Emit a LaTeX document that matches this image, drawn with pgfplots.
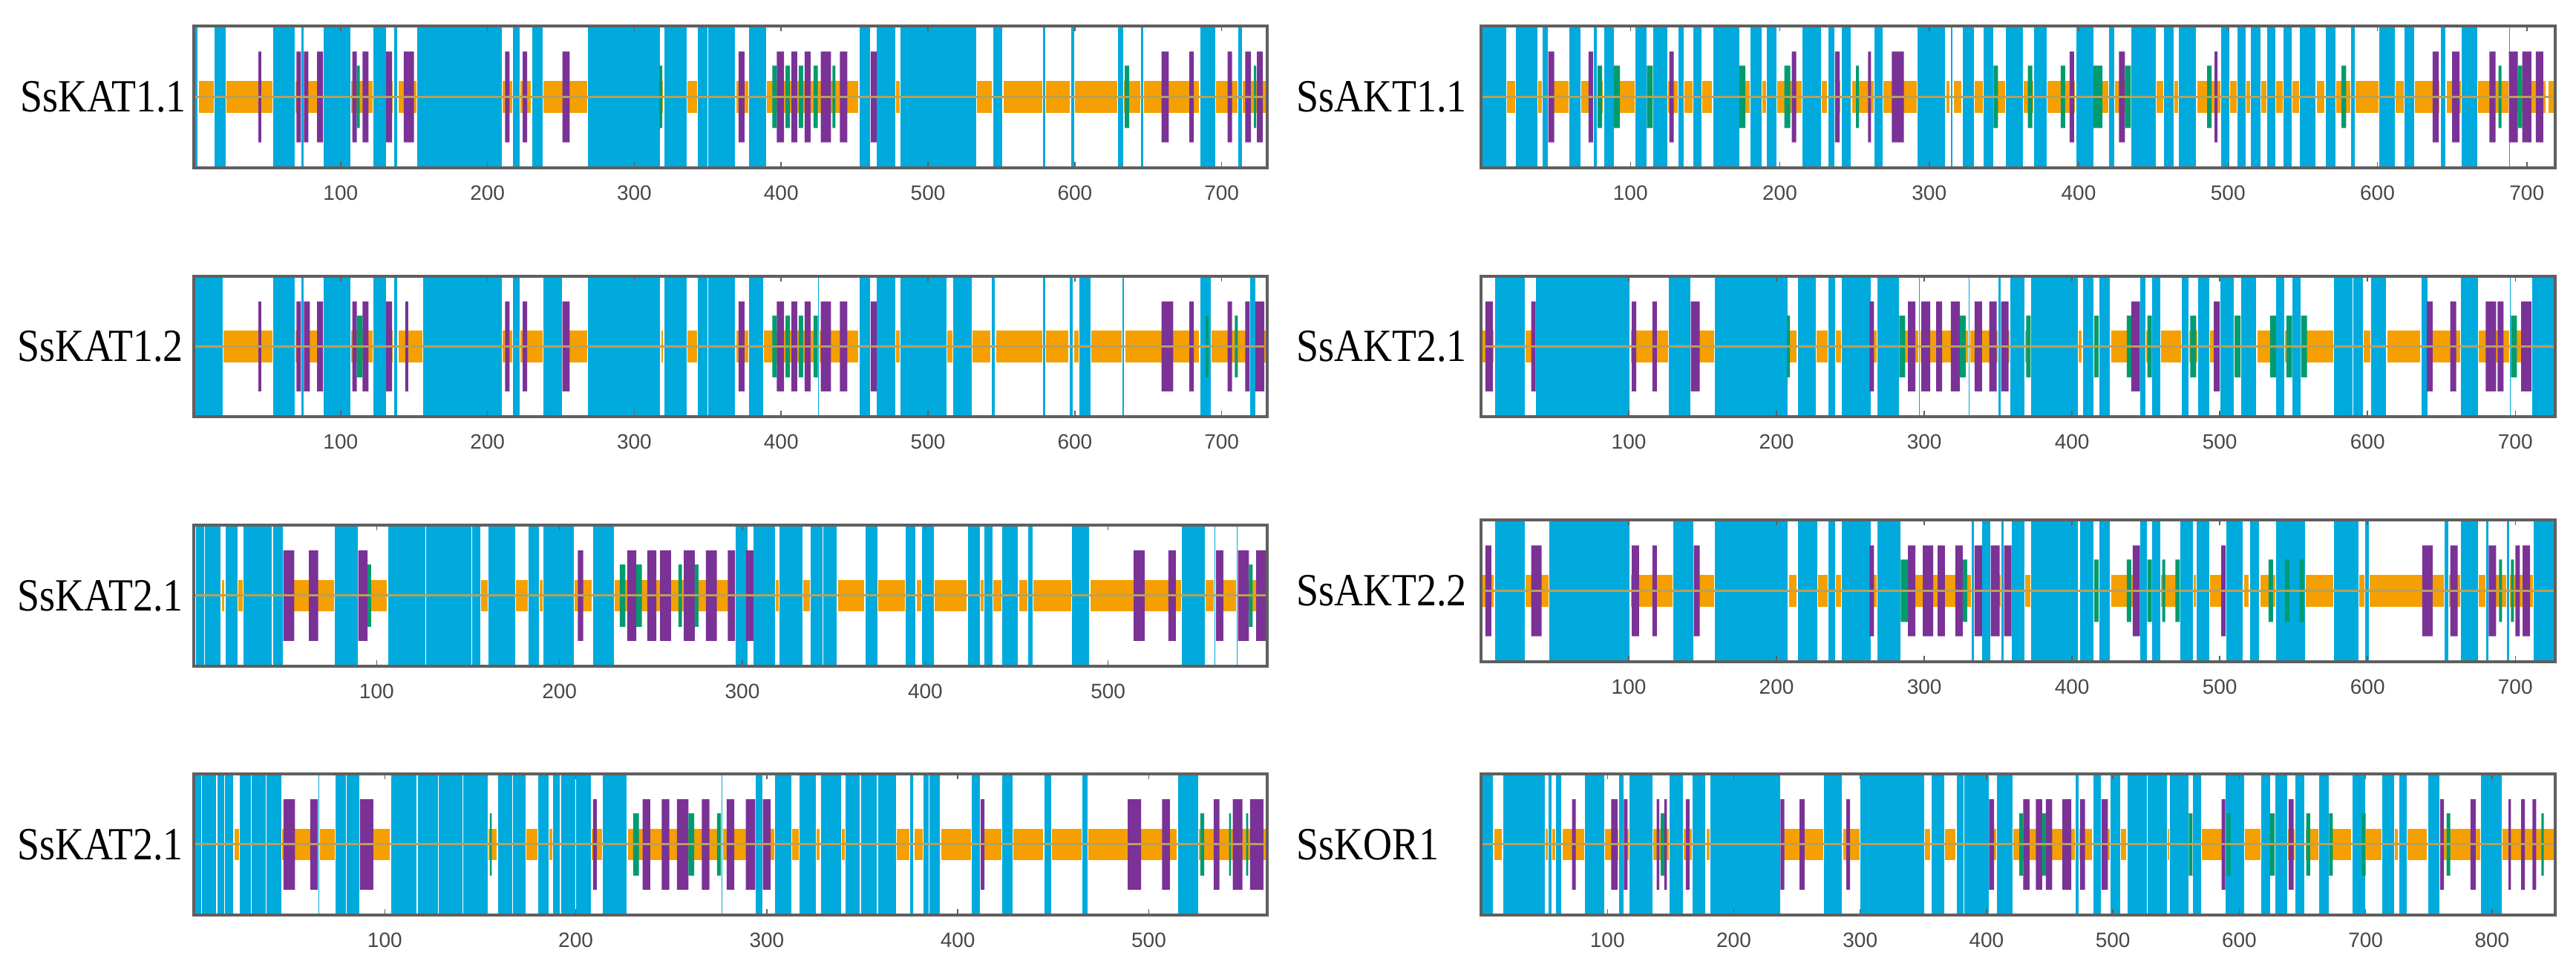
\documentclass[border=0pt]{standalone}
\usepackage{pgfplots}
\usepackage{pgfplotstable}
\usepackage{graphicx}
\pgfplotsset{compat=1.18}
\usepackage{fontspec}
\setmainfont{Liberation Serif}
\newfontfamily\ticksf{Liberation Sans}
\definecolor{sscyan}{RGB}{0,170,221}
\definecolor{ssorange}{RGB}{245,160,0}
\definecolor{sspurple}{RGB}{122,50,150}
\definecolor{ssgreen}{RGB}{0,155,110}
\definecolor{ssline}{RGB}{186,160,88}
\definecolor{ssframe}{RGB}{95,95,95}

% ---- SsKAT1.1 ----
\pgfplotstableread[row sep=\\]{x v\\0 1\\3 0\\14 1\\22 0\\54 1\\69 0\\73 1\\75 0\\88 1\\107 0\\122 1\\131 0\\136 1\\139 0\\152 1\\210 0\\217 1\\222 0\\230 1\\238 0\\268 1\\318 0\\320 1\\336 0\\343 1\\350 1\\369 0\\378 1\\390 0\\453 1\\461 0\\465 1\\478 0\\481 1\\533 0\\544 1\\551 0\\578 1\\580 0\\597 1\\600 0\\629 1\\633 0\\645 1\\647 0\\685 1\\696 0\\711 1\\714 0\\}\tAH
\pgfplotstableread[row sep=\\]{x v\\44 1\\46 0\\70 1\\73 0\\75 1\\78 0\\84 1\\88 0\\108 1\\111 0\\115 1\\119 0\\131 1\\135 0\\143 1\\150 0\\212 1\\215 0\\224 1\\227 0\\251 1\\256 0\\371 1\\375 0\\397 1\\402 0\\407 1\\411 0\\416 1\\420 0\\427 1\\434 0\\440 1\\445 0\\461 1\\465 0\\659 1\\664 0\\678 1\\681 0\\704 1\\707 0\\716 1\\720 0\\724 1\\728 0\\}\tAE
\pgfplotstableread[row sep=\\]{x v\\111 1\\113 0\\317 1\\319 0\\394 1\\397 0\\403 1\\406 0\\412 1\\415 0\\422 1\\425 0\\435 1\\437 0\\634 1\\637 0\\722 1\\723.5 0\\}\tAT
% ---- SsAKT1.1 ----
\pgfplotstableread[row sep=\\]{x v\\0 1\\17 0\\23 1\\38 0\\41 1\\45 0\\59 1\\67 0\\75 1\\78 0\\82 1\\89 0\\103 1\\111 0\\115 1\\125 0\\132 1\\136 0\\142 1\\148 0\\155 1\\173 0\\180 1\\188 0\\191 1\\198 0\\215 1\\228 0\\232 1\\237 0\\241 1\\248 0\\263 1\\269 0\\292 1\\311 0\\314 1\\316 0\\322 1\\330 0\\336 1\\343 0\\351 1\\363 0\\370 1\\379 0\\398 1\\410 0\\420 1\\424 0\\435 1\\452 0\\457 1\\464 0\\467 1\\479 0\\495 1\\501 0\\506 1\\512 0\\515 1\\522 0\\526 1\\532 0\\537 1\\543 0\\548 1\\559 0\\565 1\\572 0\\582 1\\585 0\\601 1\\612 0\\618 1\\625 0\\642 1\\646 0\\656 1\\667 0\\688 1\\689 0\\713 1\\714 0\\}\tBH
\pgfplotstableread[row sep=\\]{x v\\45 1\\49 0\\72 1\\75 0\\126 1\\129 0\\208 1\\211 0\\237 1\\240 0\\259 1\\261 0\\275 1\\283 0\\394 1\\397 0\\427 1\\431 0\\491 1\\493 0\\637 1\\641 0\\650 1\\655 0\\675 1\\679 0\\688 1\\694 0\\697 1\\703 0\\706 1\\711 0\\}\tBE
\pgfplotstableread[row sep=\\]{x v\\78 1\\81 0\\89 1\\93 0\\111 1\\115 0\\173 1\\177 0\\203 1\\207 0\\251 1\\253 0\\343 1\\346 0\\366 1\\369 0\\388 1\\391 0\\410 1\\416 0\\431 1\\435 0\\486 1\\489 0\\576 1\\579 0\\681 1\\683 0\\694 1\\697 0\\}\tBT
% ---- SsKAT1.2 ----
\pgfplotstableread[row sep=\\]{x v\\0 1\\20 0\\54 1\\69 0\\73 1\\75 0\\88 1\\107 0\\122 1\\131 0\\136 1\\139 0\\156 1\\210 0\\217 1\\222 0\\238 1\\251 0\\268 1\\318 0\\320 1\\336 0\\343 1\\350 1\\369 0\\378 1\\388 0\\425 1\\426 0\\453 1\\461 0\\465 1\\478 0\\481 1\\513 0\\517 1\\530 0\\543 1\\546 0\\578 1\\580 0\\596 1\\599 0\\603 1\\611 0\\632 1\\634 0\\685 1\\693 0\\719 1\\723 0\\}\tCH
\pgfplotstableread[row sep=\\]{x v\\44 1\\46 0\\70 1\\73 0\\75 1\\79 0\\84 1\\88 0\\108 1\\111 0\\115 1\\119 0\\131 1\\135 0\\144 1\\146 0\\212 1\\215 0\\224 1\\227 0\\251 1\\256 0\\371 1\\375 0\\397 1\\402 0\\407 1\\411 0\\416 1\\420 0\\427 1\\434 0\\440 1\\445 0\\461 1\\465 0\\659 1\\667 0\\678 1\\681 0\\704 1\\707 0\\716 1\\719 0\\723 1\\729 0\\}\tCE
\pgfplotstableread[row sep=\\]{x v\\111 1\\115 0\\394 1\\397 0\\403 1\\406 0\\412 1\\415 0\\422 1\\425 0\\689 1\\691 0\\709 1\\711 0\\}\tCT
% ---- SsAKT2.1 ----
\pgfplotstableread[row sep=\\]{x v\\9 1\\30 0\\37 1\\101 0\\127 1\\142 0\\158 1\\208 0\\214 1\\227 0\\235 1\\240 0\\244 1\\264 0\\268 1\\283 0\\296 1\\297 0\\330 1\\331 0\\350 1\\352 0\\358 1\\368 0\\372 1\\404 0\\407 1\\415 0\\418 1\\426 0\\446 1\\450 0\\454 1\\460 0\\474 1\\479 0\\485 1\\493 0\\500 1\\510 0\\514 1\\525 0\\538 1\\544 0\\549 1\\555 0\\577 1\\590 1\\597 0\\602 1\\613 0\\636 1\\641 0\\663 1\\675 0\\696 1\\697 0\\711 1\\727 0\\}\tDH
\pgfplotstableread[row sep=\\]{x v\\3 1\\8 0\\34 1\\37 0\\102 1\\105 0\\116 1\\119 0\\142 1\\148 0\\263 1\\266 0\\289 1\\294 0\\298 1\\304 0\\308 1\\312 0\\318 1\\324 0\\334 1\\339 0\\344 1\\349 0\\352 1\\357 0\\440 1\\446 0\\496 1\\500 0\\640 1\\644 0\\656 1\\660 0\\680 1\\687 0\\688 1\\692 0\\704 1\\711 0\\}\tDE
\pgfplotstableread[row sep=\\]{x v\\207 1\\209 0\\283 1\\287 0\\324 1\\328 0\\369 1\\372 0\\415 1\\418 0\\437 1\\440 0\\451 1\\454 0\\480 1\\484 0\\510 1\\514 0\\534 1\\538 0\\545 1\\549 0\\555 1\\559 0\\697 1\\701 0\\}\tDT
% ---- SsKAT2.1 (row 3) ----
\pgfplotstableread[row sep=\\]{x v\\1 1\\6 1\\15 0\\17 1\\24 0\\27 1\\43 1\\49 0\\77 1\\90 0\\106 1\\127 1\\152 1\\157 0\\161 1\\176 0\\183 1\\189 0\\191 1\\208 0\\218 1\\230 0\\296 1\\303 0\\306 1\\318 0\\320 1\\333 0\\337 1\\344 1\\352 0\\367 1\\374 0\\389 1\\395 0\\398 1\\405 0\\423 1\\430 0\\432 1\\437 0\\442 1\\451 0\\456 1\\459 0\\480 1\\490 0\\540 1\\553 0\\558 1\\559 0\\570 1\\571 0\\}\tEH
\pgfplotstableread[row sep=\\]{x v\\49 1\\55 0\\63 1\\68 0\\90 1\\95 0\\210 1\\213 0\\237 1\\242 0\\248 1\\253 0\\255 1\\261 0\\268 1\\274 0\\280 1\\286 0\\292 1\\296 0\\302 1\\306 0\\514 1\\520 0\\533 1\\537 0\\559 1\\563 0\\571 1\\577 0\\581 1\\587 0\\}\tEE
\pgfplotstableread[row sep=\\]{x v\\95 1\\97 0\\233 1\\236 0\\242 1\\245 0\\265 1\\267 0\\274 1\\276 0\\577 1\\579 0\\}\tET
% ---- SsAKT2.2 ----
\pgfplotstableread[row sep=\\]{x v\\9 1\\30 0\\46 1\\101 0\\130 1\\144 0\\158 1\\208 0\\214 1\\228 0\\235 1\\240 0\\244 1\\264 0\\268 1\\284 0\\332 1\\334 0\\339 1\\345 0\\352 1\\354 0\\359 1\\368 0\\372 1\\404 0\\405 1\\415 0\\418 1\\426 0\\446 1\\451 0\\454 1\\460 0\\473 1\\482 0\\484 1\\493 0\\504 1\\516 0\\520 1\\527 0\\538 1\\558 0\\577 1\\594 0\\598 1\\601 0\\652 1\\655 0\\663 1\\675 0\\680 1\\682 0\\694 1\\696 0\\712 1\\727 0\\}\tFH
\pgfplotstableread[row sep=\\]{x v\\3 1\\7 0\\34 1\\41 0\\102 1\\107 0\\116 1\\119 0\\144 1\\148 0\\263 1\\266 0\\289 1\\294 0\\299 1\\306 0\\309 1\\314 0\\321 1\\326 0\\334 1\\339 0\\345 1\\351 0\\354 1\\359 0\\441 1\\446 0\\501 1\\504 0\\637 1\\644 0\\656 1\\661 0\\682 1\\687 0\\700 1\\703 0\\705 1\\710 0\\}\tFE
\pgfplotstableread[row sep=\\]{x v\\284 1\\289 0\\326 1\\329 0\\415 1\\418 0\\437 1\\440 0\\451 1\\454 0\\461 1\\463 0\\470 1\\473 0\\533 1\\536 0\\544 1\\547 0\\554 1\\557 0\\689 1\\691 0\\697 1\\699 0\\}\tFT
% ---- SsKAT2.1 (row 4) ----
\pgfplotstableread[row sep=\\]{x v\\0 1\\4 1\\12 1\\16 1\\21 0\\24 1\\30 1\\38 1\\46 0\\65 1\\66 0\\74 1\\80 1\\87 0\\103 1\\117 1\\128 1\\141 1\\154 0\\159 1\\167 1\\174 0\\180 1\\186 0\\188 1\\192 1\\200 1\\208 0\\214 1\\227 0\\276 1\\277 0\\294 1\\298 0\\304 1\\313 0\\317 1\\326 0\\328 1\\339 0\\341 1\\349 1\\358 1\\368 0\\375 1\\377 0\\382 1\\385 1\\391 0\\407 1\\412 0\\423 1\\429 0\\445 1\\449 0\\465 1\\468 0\\515 1\\526 0\\}\tGH
\pgfplotstableread[row sep=\\]{x v\\47 1\\53 0\\61 1\\65 0\\87 1\\94 0\\209 1\\211 0\\235 1\\239 0\\245 1\\249 0\\253 1\\259 0\\266 1\\270 0\\279 1\\283 0\\289 1\\294 0\\298 1\\302 0\\412 1\\414 0\\489 1\\496 0\\507 1\\511 0\\534 1\\537 0\\544 1\\549 0\\553 1\\560 0\\}\tGE
\pgfplotstableread[row sep=\\]{x v\\155 1\\156 0\\230 1\\233 0\\259 1\\262 0\\274 1\\276 0\\527 1\\529 0\\542 1\\543 0\\551 1\\552 0\\}\tGT
% ---- SsKOR1 ----
\pgfplotstableread[row sep=\\]{x v\\0 1\\10 0\\17 1\\51 0\\53 1\\56 0\\59 1\\64 0\\82 1\\98 0\\109 1\\113 0\\117 1\\136 0\\149 1\\160 0\\167 1\\178 0\\181 1\\237 0\\271 1\\286 0\\300 1\\351 0\\356 1\\367 0\\376 1\\382 1\\402 0\\408 1\\421 0\\470 1\\473 0\\484 1\\491 0\\498 1\\506 0\\511 1\\527 1\\543 0\\545 1\\560 0\\563 1\\570 0\\589 1\\604 0\\617 1\\625 0\\628 1\\638 0\\644 1\\652 0\\663 1\\671 0\\689 1\\700 0\\713 1\\723 0\\726 1\\733 0\\749 1\\759 0\\791 1\\808 0\\}\tHH
\pgfplotstableread[row sep=\\]{x v\\72 1\\75 0\\103 1\\108 0\\113 1\\116 0\\139 1\\141 0\\145 1\\147 0\\162 1\\165 0\\237 1\\240 0\\252 1\\256 0\\289 1\\292 0\\402 1\\406 0\\429 1\\434 0\\439 1\\444 0\\447 1\\452 0\\460 1\\467 0\\474 1\\478 0\\491 1\\496 0\\586 1\\589 0\\639 1\\643 0\\759 1\\762 0\\783 1\\787 0\\813 1\\815 0\\823 1\\826 0\\832 1\\835 0\\}\tHE
\pgfplotstableread[row sep=\\]{x v\\142 1\\145 0\\426 1\\429 0\\444 1\\447 0\\560 1\\563 0\\590 1\\593 0\\624 1\\628 0\\653 1\\656 0\\671 1\\674 0\\697 1\\700 0\\764 1\\767 0\\839 1\\841 0\\}\tHT

\pgfplotsset{ssax/.style={scale only axis, ymin=-1, ymax=1, xmin=0,
  ytick=\empty, xtick={100,200,...,800}, axis on top, clip=true,
  tick align=inside, major tick length=1.5pt,
  every tick/.style={ssframe, line width=0.3pt},
  axis line style={draw=ssframe, line width=0.7pt},
  /pgf/number format/assume math mode=true,
  xticklabel style={font=\ticksf\fontsize{5.6}{6}\selectfont, text=black!72, yshift=-1.2pt},
  anchor=south west}}

\newcommand{\sspanel}[4]{%
 \addplot[ybar interval, fill=ssorange, draw=none] coordinates {(0,0.225) (#1,0)};
 \addplot[ybar interval, fill=ssorange, draw=none] coordinates {(0,-0.225) (#1,0)};
 \addplot[ybar interval, fill=sscyan, draw=white, line width=0.25pt] table[x=x, y expr=\thisrow{v}] {#2};
 \addplot[ybar interval, fill=sscyan, draw=white, line width=0.25pt] table[x=x, y expr=-\thisrow{v}] {#2};
 \addplot[ybar interval, fill=sspurple, draw=none] table[x=x, y expr=0.64*\thisrow{v}] {#3};
 \addplot[ybar interval, fill=sspurple, draw=none] table[x=x, y expr=-0.64*\thisrow{v}] {#3};
 \addplot[ybar interval, fill=ssgreen, draw=none] table[x=x, y expr=0.44*\thisrow{v}] {#4};
 \addplot[ybar interval, fill=ssgreen, draw=none] table[x=x, y expr=-0.44*\thisrow{v}] {#4};
 \addplot[ssline, line width=0.6pt] coordinates {(0,0) (#1,0)};
}
\newcommand{\lab}[1]{\scalebox{1}[1.15]{\fontsize{10.8}{12}\selectfont #1}}

\begin{document}
\begin{tikzpicture}
\path[use as bounding box] (0,0) rectangle (694pt,261.2pt);
% left column
\begin{axis}[ssax, at={(52.2pt,216pt)}, width=289.2pt, height=38.2pt, xmax=731]
\sspanel{731}{\tAH}{\tAE}{\tAT}
\end{axis}
\begin{axis}[ssax, at={(52.2pt,149pt)}, width=289.2pt, height=37.8pt, xmax=731]
\sspanel{731}{\tCH}{\tCE}{\tCT}
\end{axis}
\begin{axis}[ssax, at={(52.2pt,81.8pt)}, width=289.2pt, height=38pt, xmax=587]
\sspanel{587}{\tEH}{\tEE}{\tET}
\end{axis}
\begin{axis}[ssax, at={(52.2pt,14.8pt)}, width=289.2pt, height=38pt, xmax=562]
\sspanel{562}{\tGH}{\tGE}{\tGT}
\end{axis}
% right column
\begin{axis}[ssax, at={(399pt,216pt)}, width=289.4pt, height=38.2pt, xmax=719]
\sspanel{719}{\tBH}{\tBE}{\tBT}
\end{axis}
\begin{axis}[ssax, at={(399pt,149pt)}, width=289.4pt, height=37.8pt, xmax=727]
\sspanel{727}{\tDH}{\tDE}{\tDT}
\end{axis}
\begin{axis}[ssax, at={(399pt,83pt)}, width=289.4pt, height=38.2pt, xmax=727]
\sspanel{727}{\tFH}{\tFE}{\tFT}
\end{axis}
\begin{axis}[ssax, at={(399pt,14.8pt)}, width=289.4pt, height=38pt, xmax=850]
\sspanel{850}{\tHH}{\tHE}{\tHT}
\end{axis}
% labels
\node[anchor=west, inner sep=0pt] at (5.2pt,235.1pt) {\lab{SsKAT1.1}};
\node[anchor=west, inner sep=0pt] at (4.4pt,167.9pt) {\lab{SsKAT1.2}};
\node[anchor=west, inner sep=0pt] at (4.4pt,100.8pt) {\lab{SsKAT2.1}};
\node[anchor=west, inner sep=0pt] at (4.4pt,33.8pt) {\lab{SsKAT2.1}};
\node[anchor=west, inner sep=0pt] at (349pt,235.1pt) {\lab{SsAKT1.1}};
\node[anchor=west, inner sep=0pt] at (349pt,167.9pt) {\lab{SsAKT2.1}};
\node[anchor=west, inner sep=0pt] at (349pt,102.1pt) {\lab{SsAKT2.2}};
\node[anchor=west, inner sep=0pt] at (349pt,33.8pt) {\lab{SsKOR1}};
\end{tikzpicture}
\end{document}
